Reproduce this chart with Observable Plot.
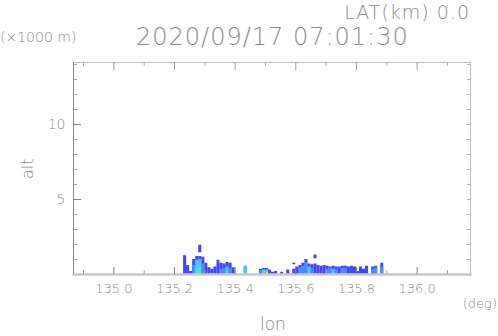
<!DOCTYPE html>
<html>
<head>
<meta charset="utf-8">
<script src="https://cdn.jsdelivr.net/npm/d3@7"></script>
<script src="https://cdn.jsdelivr.net/npm/@observablehq/plot@0.6"></script>
<style>
  html, body { margin: 0; padding: 0; background: #fff; }
  #wrap { position: relative; width: 498px; height: 336px; font-family: "DejaVu Sans", sans-serif; font-weight: 200; color: #8c8c8c; }
  #wrap svg { position: absolute; left: 0; top: 0; font-weight: 200; }
  .t { position: absolute; white-space: nowrap; line-height: 1.15; }
</style>
</head>
<body>
<div id="wrap">
  <div class="t" style="left:0px; top:29px; font-size:14px;">(×1000 m)</div>
  <div class="t" style="left:136px; top:24px; font-size:24px; letter-spacing:1px;">2020/09/17 07:01:30</div>
  <div class="t" style="right:28px; top:2px; font-size:19px; letter-spacing:1px;">LAT(km) 0.0</div>
  <div class="t" style="left:19px; top:179px; font-size:16px; transform:rotate(-90deg); transform-origin:left top;">alt</div>
  <div class="t" style="left:260px; top:315px; font-size:17px;">lon</div>
  <div class="t" style="right:1px; top:297px; font-size:13px;">(deg)</div>
</div>
<script>
// ---- data ----
const xDomain = [134.867, 136.176];
const yDomain = [0, 14.13];
const xMajorTicks = [135.0, 135.2, 135.4, 135.6, 135.8, 136.0];
const xMinorTicks = [134.9, 135.1, 135.3, 135.5, 135.7, 135.9, 136.1];
const xTickLabels = [135.0, 135.2, 135.4, 135.6, 135.8, 136.0];
const yMajorTicks = [5, 10];
const yMinorTicks = [1, 2, 3, 4, 6, 7, 8, 9, 11, 12, 13, 14];
const yTickLabels = [5, 10];
const binWidth = 0.01;

// echo columns: lon bin start, top altitude (km)
const colLons = [135.23,135.24,135.25,135.26,135.27,135.28,135.29,135.30,135.31,135.32,135.33,135.34,135.35,135.36,135.37,135.38,135.39,
  135.43,135.48,135.49,135.50,135.51,135.52,135.53,135.55,135.57,
  135.59,135.60,135.61,135.62,135.63,135.64,135.65,135.66,135.67,135.68,135.69,135.70,135.71,135.72,135.73,135.74,135.75,135.76,135.77,135.78,135.79,135.80,135.81,135.82,135.83,135.85,135.86,135.88];
const colTops = [1.25,0.6,0.2,1.0,1.2,1.2,1.15,0.75,0.45,0.35,0.5,0.85,0.75,0.7,0.8,0.75,0.45,
  0.55,0.35,0.4,0.4,0.3,0.15,0.2,0.15,0.3,
  0.35,0.5,0.6,0.75,1.0,0.7,0.65,0.7,0.6,0.55,0.6,0.55,0.5,0.55,0.5,0.5,0.55,0.55,0.5,0.55,0.5,0.2,0.5,0.35,0.55,0.5,0.55,0.75];
const colLevels = colLons.map(() => 0);

// stronger echo cores inside columns
const coreLons = [135.26,135.27,135.28,135.29,135.27,135.28,135.35,135.36,135.37,135.38,135.43,135.48,135.49,135.50,135.49,135.50,
  135.61,135.62,135.63,135.64,135.65,135.70,135.71,135.72,135.73,135.75,135.76,135.85,135.86,135.88];
const coreTops = [0.6,0.95,1.0,0.7,0.4,0.5,0.35,0.4,0.5,0.4,0.55,0.25,0.3,0.3,0.15,0.15,
  0.45,0.55,0.8,0.5,0.4,0.35,0.4,0.35,0.3,0.4,0.4,0.35,0.45,0.5];
const coreLevels = [1,2,2,1,3,3,1,1,2,1,2,1,3,2,4,5,
  1,1,1,2,1,1,1,2,1,1,1,1,1,1];

// detached echoes aloft
const floatLons = [135.28, 135.34, 135.59, 135.66];
const floatBottoms = [1.45, 0.85, 0.65, 1.05];
const floatTops = [1.95, 0.95, 0.75, 1.3];

const levelColors = ["#4444ff", "#4a8cff", "#50c8ff", "#40e8c8", "#60dc60", "#e8e040"];

// ---- build ----
const cols = colLons.map((x, i) => ({x1: x, x2: x + binWidth, y1: 0, y2: colTops[i], lv: colLevels[i]}));
const cores = coreLons.map((x, i) => ({x1: x, x2: x + binWidth, y1: 0, y2: coreTops[i], lv: coreLevels[i]}));
const floats = floatLons.map((x, i) => ({x1: x, x2: x + binWidth, y1: floatBottoms[i], y2: floatTops[i], lv: 0}));

const W = 498, H = 336, mL = 73, mR = 28, mT = 62, mB = 62;
const fw = W - mL - mR, fh = H - mT - mB;
const axisCol = "#8c8c8c";

const plot = Plot.plot({
  width: W, height: H,
  marginLeft: mL, marginRight: mR, marginTop: mT, marginBottom: mB,
  style: {fontFamily: "DejaVu Sans, sans-serif", color: axisCol, background: "transparent"},
  x: {domain: xDomain, axis: null},
  y: {domain: yDomain, axis: null},
  color: {type: "ordinal", domain: [0,1,2,3,4,5], range: levelColors},
  marks: [
    Plot.rect(cols, {x1: "x1", x2: "x2", y1: "y1", y2: "y2", fill: d => d.lv}),
    Plot.rect(cores, {x1: "x1", x2: "x2", y1: "y1", y2: "y2", fill: d => d.lv}),
    Plot.rect(floats, {x1: "x1", x2: "x2", y1: "y1", y2: "y2", fill: d => d.lv}),
    // frame
    Plot.frame({stroke: "#c0c0c0"}),
    Plot.frame({anchor: "left", stroke: "#8c8c8c"}),
    Plot.frame({anchor: "bottom", stroke: "#c8c8c8", strokeWidth: 2.5}),
    // bottom ticks
    Plot.tickX(xMajorTicks, {x: d => d, insetTop: fh - 7, stroke: "#808080"}),
    Plot.tickX(xMinorTicks, {x: d => d, insetTop: fh - 4, stroke: "#a0a0a0"}),
    // top ticks
    Plot.tickX(xMajorTicks, {x: d => d, insetBottom: fh - 8, stroke: "#a0a0a0"}),
    Plot.tickX(xMinorTicks, {x: d => d, insetBottom: fh - 4, stroke: "#b0b0b0"}),
    // left ticks
    Plot.tickY(yMajorTicks, {y: d => d, insetRight: fw - 8, stroke: "#808080"}),
    Plot.tickY(yMinorTicks, {y: d => d, insetRight: fw - 4, stroke: "#a0a0a0"}),
    // right ticks
    Plot.tickY([...yMajorTicks, ...yMinorTicks], {y: d => d, insetLeft: fw - 3, stroke: "#b0b0b0"}),
    // tick labels
    Plot.axisX(xTickLabels, {tickSize: 0, tickPadding: 9, tickFormat: d => d.toFixed(1), label: null, fontSize: 13}),
    Plot.axisY(yTickLabels, {tickSize: 0, tickPadding: 8, label: null, fontSize: 14})
  ]
});
document.getElementById("wrap").prepend(plot);
</script>
</body>
</html>
